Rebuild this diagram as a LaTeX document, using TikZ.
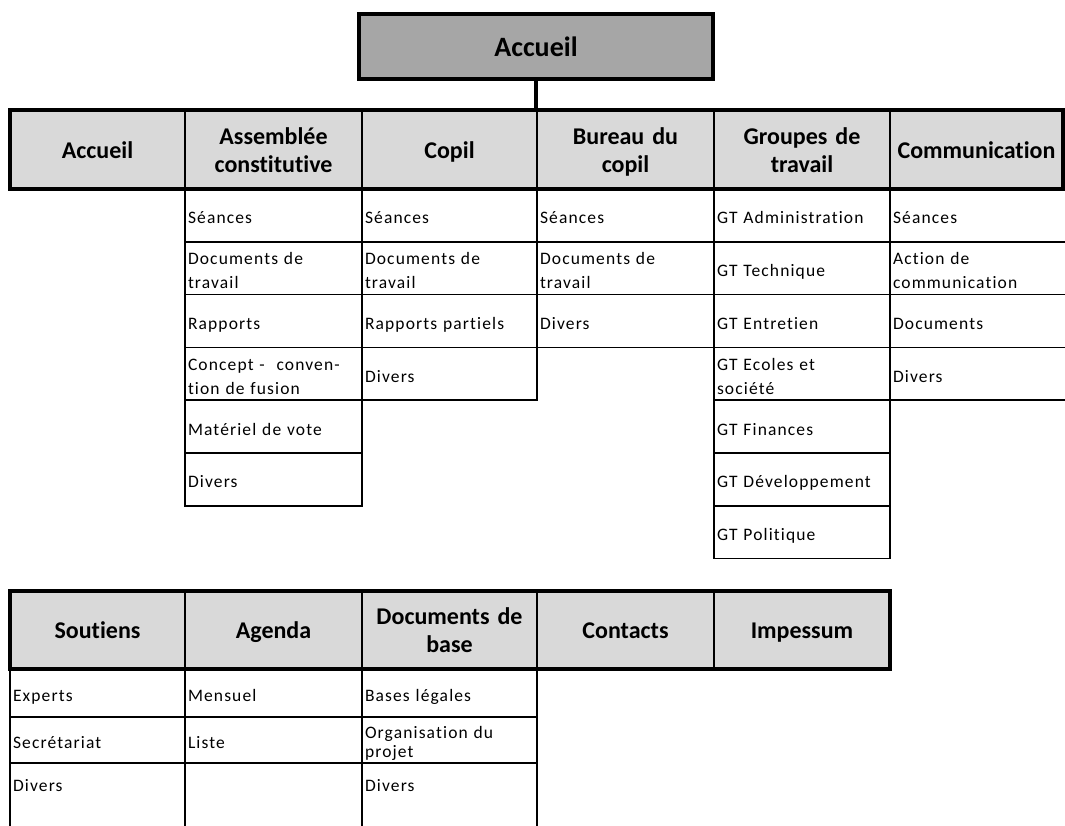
\documentclass[tikz,border=0pt]{standalone}
\usepackage{fontspec}
\setmainfont[Ligatures=NoCommon]{Carlito}
\newfontfamily\cellfont[LetterSpace=6.5,Ligatures=NoCommon]{Carlito}
\definecolor{hdrgray}{HTML}{D9D9D9}
\definecolor{rootgray}{HTML}{A6A6A6}
\newcommand\hdrtop{\rule{0pt}{23.7pt}}
\newcommand\hdrbot{\rule[-6.5pt]{0pt}{6.5pt}}
\newcommand\celltop{\rule{0pt}{21.5pt}}
\newcommand\cellbot{\rule[-4.7pt]{0pt}{4.7pt}}
\begin{document}
\begin{tikzpicture}[x=1pt,y=-1pt,
  rootbox/.style={draw, line width=3.2pt, fill=rootgray, minimum width=354pt,
    minimum height=65pt, inner sep=0pt, outer sep=0pt,
    font=\fontsize{28}{32}\selectfont\bfseries},
  hdr/.style={draw, line width=1.4pt, fill=hdrgray, anchor=north west,
    minimum height=#1, inner xsep=2pt, inner ysep=0pt, outer sep=0pt,
    align=center, font=\fontsize{24}{28}\selectfont\bfseries,
    execute at begin node=\hdrtop, execute at end node=\hdrbot},
  cell/.style={draw, line width=1.5pt, anchor=north west, minimum height=#1,
    inner xsep=3pt, inner ysep=0pt, outer sep=0pt, align=left,
    font=\cellfont\fontsize{17.5}{24}\selectfont,
    execute at begin node=\celltop, execute at end node=\cellbot},
  tight/.style={font=\cellfont\fontsize{17.5}{19}\selectfont},
  frame/.style={line width=3.2pt},
  link/.style={line width=3.5pt},
  rule/.style={line width=1.5pt}
]
\useasboundingbox (0,0) rectangle (1065,825);
\clip (0,0) rectangle (1065,825);

% root
\node[rootbox] (root) at (536,46.5) {Accueil};

% top header row
\node[hdr=79pt, text width=171pt] (h1) at (10,110) {Accueil};
\node[hdr=79pt, text width=173pt] (h2) at (185,110) {Assemblée\\constitutive};
\node[hdr=79pt, text width=171pt] (h3) at (362,110) {Copil};
\node[hdr=79pt, text width=173pt] (h4) at (537,110) {Bureau du\\copil};
\node[hdr=79pt, text width=172pt] (h5) at (714,110) {Groupes de\\travail};
\node[hdr=79pt, text width=169pt] (h6) at (890,110) {Communication};
\draw[frame] (h1.north west) rectangle (h6.south east);
\draw[link] (root.south) -- (root.south |- h1.north);

% Assemblee constitutive
\node[cell=52.8pt, text width=171pt] (a1) at (185,189) {Séances};
\node[cell=52.8pt, text width=171pt] (a2) at (185,241.8) {Documents de\\travail};
\node[cell=52.8pt, text width=171pt] (a3) at (185,294.6) {Rapports};
\node[cell=52.8pt, text width=171pt] (a4) at (185,347.4) {Concept -\ \ conven-\\tion de fusion};
\node[cell=52.8pt, text width=171pt] (a5) at (185,400.2) {Matériel de vote};
\node[cell=52.8pt, text width=171pt] (a6) at (185,453) {Divers};

% Copil
\node[cell=52.8pt, text width=169pt] (c1) at (362,189) {Séances};
\node[cell=52.8pt, text width=169pt] (c2) at (362,241.8) {Documents de\\travail};
\node[cell=52.8pt, text width=169pt] (c3) at (362,294.6) {Rapports partiels};
\node[cell=52.8pt, text width=169pt] (c4) at (362,347.4) {Divers};

% Bureau du copil
\node[cell=52.8pt, text width=171pt] (b1) at (537,189) {Séances};
\node[cell=52.8pt, text width=171pt] (b2) at (537,241.8) {Documents de\\travail};
\node[cell=52.8pt, text width=171pt] (b3) at (537,294.6) {Divers};

% Groupes de travail
\node[cell=52.8pt, text width=170pt] (g1) at (714,189) {GT Administration};
\node[cell=52.8pt, text width=170pt] (g2) at (714,241.8) {GT Technique};
\node[cell=52.8pt, text width=170pt] (g3) at (714,294.6) {GT Entretien};
\node[cell=52.8pt, text width=170pt] (g4) at (714,347.4) {GT Ecoles et\\société};
\node[cell=52.8pt, text width=170pt] (g5) at (714,400.2) {GT Finances};
\node[cell=52.8pt, text width=170pt] (g6) at (714,453) {GT Développement};
\node[cell=52.8pt, text width=170pt] (g7) at (714,505.8) {GT Politique};

% Communication (open on the right edge)
\node[cell=52.8pt, text width=172pt] (m1) at (890,189) {Séances};
\node[cell=52.8pt, text width=172pt] (m2) at (890,241.8) {Action de\\communication};
\node[cell=52.8pt, text width=172pt] (m3) at (890,294.6) {Documents};
\node[cell=52.8pt, text width=172pt] (m4) at (890,347.4) {Divers};

% bottom header row
\node[hdr=78pt, text width=171pt] (s0) at (10,591) {Soutiens};
\node[hdr=78pt, text width=173pt] (t0) at (185,591) {Agenda};
\node[hdr=78pt, text width=171pt] (d0) at (362,591) {Documents de\\base};
\node[hdr=78pt, text width=173pt] (k0) at (537,591) {Contacts};
\node[hdr=78pt, text width=172pt] (i0) at (714,591) {Impessum};
\draw[frame] (s0.north west) rectangle (i0.south east);

% bottom cells
\node[cell=48pt, text width=169pt] (s1) at (10,669) {Experts};
\node[cell=46pt, text width=169pt] (s2) at (10,717) {Secrétariat};
\node[cell=40pt, text width=169pt, draw=none] (s3) at (10,763) {Divers};
\node[cell=48pt, text width=171pt] (t1) at (185,669) {Mensuel};
\node[cell=46pt, text width=171pt] (t2) at (185,717) {Liste};
\node[cell=40pt, text width=171pt, draw=none] (t3) at (185,763) {};
\node[cell=48pt, text width=169pt] (d1) at (362,669) {Bases légales};
\node[cell=46pt, text width=169pt, tight] (d2) at (362,717) {Organisation du\\projet};
\node[cell=40pt, text width=169pt, draw=none] (d3) at (362,763) {Divers};
\draw[rule] (s3.north west) -- ++(0,70);
\draw[rule] (t3.north west) -- ++(0,70);
\draw[rule] (d3.north west) -- ++(0,70);
\draw[rule] (d3.north east) -- ++(0,70);
\end{tikzpicture}
\end{document}
